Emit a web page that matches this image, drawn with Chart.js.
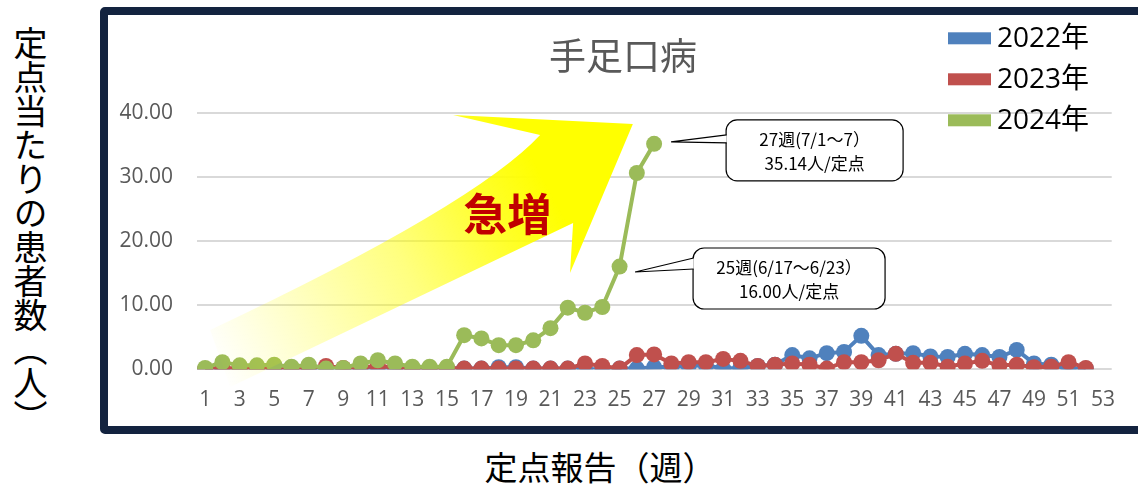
<!DOCTYPE html>
<html lang="ja">
<head>
<meta charset="utf-8">
<script src="https://cdn.jsdelivr.net/npm/chart.js@4/dist/chart.umd.min.js"></script>
<style>
  body { margin: 0; width: 1138px; height: 490px; background: #fff; position: relative; overflow: hidden;
         font-family: "Noto Sans CJK JP", sans-serif; }
  #frame { position: absolute; left: 100px; top: 7px; width: 1060px; height: 411px;
           border: 8px solid #13233f; border-radius: 5px; }
  #wrap { position: absolute; left: 108px; top: 15px; width: 1030px; height: 411px; }
  #yTitle { position: absolute; left: 11px; top: 26px; writing-mode: vertical-rl; font-size: 34px;
            line-height: 38px; color: #000; }
  #xTitle { position: absolute; left: 0; width: 1200px; top: 446px; text-align: center; font-size: 33px;
            line-height: 40px; color: #000; }
</style>
</head>
<body>
<div id="yTitle">定点当たりの患者数（人）</div>
<div id="frame"></div>
<div id="wrap"><canvas id="chart" width="1030" height="411"></canvas></div>
<div id="xTitle">定点報告（週）</div>
<script>
// 週ラベル
const weeks = ['1','2','3','4','5','6','7','8','9','10','11','12','13','14','15','16','17','18','19','20',
  '21','22','23','24','25','26','27','28','29','30','31','32','33','34','35','36','37','38','39','40',
  '41','42','43','44','45','46','47','48','49','50','51','52','53'];

const chartTitle = '手足口病';
const seriesNames = ['2022年', '2023年', '2024年'];

const data2022 = [0, 0, 0, 0, 0, 0, 0, 0, 0, 0.1, 0, 0.1, 0, 0, 0.1,
  0.1, 0.1, 0.3, 0.3, 0.1, 0.1, 0.1, 0, 0, 0.1, 0.1, 0.3,
  0.4, 0.5, 0.6, 0.1, 0.2, 0.5, 0.7,
  2.2, 1.7, 2.5, 2.7, 5.2, 2.2, 2.4, 2.5, 2.0, 1.9, 2.4, 2.2, 1.9, 3.0, 0.9, 0.7, 0.0, 0.1];

const data2023 = [0.0, 0.2, 0.1, 0.1, 0.2, 0.2, 0.2, 0.5, 0.2, 0.3, 0.5, 0.3, 0.1, 0.2, 0.2,
  0.1, 0.1, 0.1, 0.1, 0.1, 0.1, 0.1, 0.9, 0.5, 0.1, 2.2, 2.3,
  0.9, 1.1, 1.1, 1.6, 1.3, 0.5, 0.7,
  0.9, 0.7, 0.1, 1.1, 1.1, 1.4, 2.4, 1.0, 1.0, 0.4, 0.9, 1.3, 0.6, 0.7, 0.3, 0.4, 1.1, 0.2];

const data2024 = [0.2, 1.1, 0.6, 0.6, 0.7, 0.4, 0.7, 0.1, 0.2, 0.9, 1.4, 0.9, 0.4, 0.4, 0.4,
  5.3, 4.8, 3.75, 3.75, 4.5, 6.4, 9.6, 8.8, 9.7, 16.00, 30.6, 35.14];

const yTicks = [0, 10, 20, 30, 40];

// 吹き出し
const calloutWeeks = [27, 25];
const calloutText = [
  ['27週(7/1～7）', '35.14人/定点'],
  ['25週(6/17～6/23）', '16.00人/定点']
];

const colors = ['#4f81bd', '#c0504d', '#9bbb59'];
const jpFont = "'Open Sans', 'Noto Sans CJK JP', sans-serif";

Chart.defaults.font.family = jpFont;

function roundRect(ctx, x, y, w, h, r) {
  ctx.beginPath();
  ctx.moveTo(x + r, y);
  ctx.lineTo(x + w - r, y);
  ctx.arcTo(x + w, y, x + w, y + r, r);
  ctx.lineTo(x + w, y + h - r);
  ctx.arcTo(x + w, y + h, x + w - r, y + h, r);
  ctx.lineTo(x + r, y + h);
  ctx.arcTo(x, y + h, x, y + h - r, r);
  ctx.lineTo(x, y + r);
  ctx.arcTo(x, y, x + r, y, r);
  ctx.closePath();
}

// タイトル・矢印・「急増」・吹き出し・凡例
const decorations = {
  id: 'decorations',
  afterDatasetsDraw(chart) {
    const ctx = chart.ctx;
    const xs = chart.scales.x, ys = chart.scales.y;
    const P = (i, v) => [xs.getPixelForValue(i), ys.getPixelForValue(v)];

    ctx.save();
    // タイトル（枠の中央）
    ctx.fillStyle = '#595959';
    ctx.font = "37px 'Noto Sans CJK JP', sans-serif";
    ctx.textAlign = 'center';
    ctx.textBaseline = 'middle';
    ctx.fillText(chartTitle, chart.width / 2, 41);

    // 黄色い矢印
    const tip = P(24.77, 38.25), headTop = P(14.36, 39.65), notchTop = P(19.40, 36.53);
    const ctrl = P(15.63, 25.6), tailTop = P(0.29, 6.12), tailBot = P(1.45, -2.78);
    const notchBot = P(21.31, 22.8), headBot = P(21.13, 15.0);
    const g0 = P(0.6, 0.5), g1 = P(22.5, 32);
    const grad = ctx.createLinearGradient(g0[0], g0[1], g1[0], g1[1]);
    grad.addColorStop(0, 'rgba(255,255,0,0)');
    grad.addColorStop(0.2, 'rgba(255,255,0,0.2)');
    grad.addColorStop(0.5, 'rgba(255,255,0,0.5)');
    grad.addColorStop(0.75, 'rgba(255,255,0,0.85)');
    grad.addColorStop(0.88, 'rgba(255,255,0,1)');
    ctx.beginPath();
    ctx.moveTo(tip[0], tip[1]);
    ctx.lineTo(headTop[0], headTop[1]);
    ctx.lineTo(notchTop[0], notchTop[1]);
    ctx.quadraticCurveTo(ctrl[0], ctrl[1], tailTop[0], tailTop[1]);
    ctx.lineTo(tailBot[0], tailBot[1]);
    ctx.lineTo(notchBot[0], notchBot[1]);
    ctx.lineTo(headBot[0], headBot[1]);
    ctx.closePath();
    ctx.fillStyle = grad;
    ctx.fill();

    // 急増
    const t = P(17.49, 24.2);
    ctx.fillStyle = '#c00000';
    ctx.font = "bold 44px 'Noto Sans CJK JP', sans-serif";
    ctx.fillText('急増', t[0], t[1]);

    // 吹き出し
    const boxes = [
      { tip: [17, -2], base: [-9, -1], box: [72, -24, 177, 61] },
      { tip: [15.5, 5.4], base: [-8.6, 2.4], box: [73.5, -18.6, 192, 61] }
    ];
    ctx.font = "17px 'Noto Sans CJK JP', sans-serif";
    calloutWeeks.forEach((wk, k) => {
      const idx = weeks.indexOf(String(wk));
      const p = P(idx, data2024[idx]);
      const b = boxes[k];
      const bx = p[0] + b.box[0], by = p[1] + b.box[1];
      ctx.fillStyle = '#fff';
      ctx.strokeStyle = '#000';
      ctx.lineWidth = 1.2;
      roundRect(ctx, bx, by, b.box[2], b.box[3], 11);
      ctx.fill();
      ctx.stroke();
      // しっぽ
      ctx.beginPath();
      ctx.moveTo(bx + 0.6, p[1] + b.base[0]);
      ctx.lineTo(p[0] + b.tip[0], p[1] + b.tip[1]);
      ctx.lineTo(bx + 0.6, p[1] + b.base[1]);
      ctx.fill();
      ctx.stroke();
      ctx.fillStyle = '#000';
      ctx.fillText(calloutText[k][0], bx + b.box[2] / 2, by + 20);
      ctx.fillText(calloutText[k][1], bx + b.box[2] / 2, by + 43.5);
    });

    // 凡例
    ctx.font = "28px " + jpFont;
    ctx.textAlign = 'left';
    chart.data.datasets.forEach((ds, i) => {
      const cy = 23.3 + i * 41;
      ctx.fillStyle = ds.borderColor;
      ctx.fillRect(840, cy - 6, 43, 12);
      ctx.fillStyle = '#000';
      ctx.fillText(ds.label, 889, cy + 1);
    });
    ctx.restore();
  }
};

const seriesData = [data2022, data2023, data2024];

new Chart(document.getElementById('chart'), {
  type: 'line',
  data: {
    labels: weeks,
    datasets: seriesData.map((d, i) => ({
      label: seriesNames[i],
      data: d,
      borderColor: colors[i],
      backgroundColor: colors[i],
      pointBackgroundColor: colors[i],
      pointBorderWidth: 0,
      pointRadius: 8,
      borderWidth: 4,
      tension: 0,
      fill: false,
      order: 2 - i
    }))
  },
  options: {
    responsive: false,
    animation: false,
    layout: { padding: { left: 0, right: 26.3, top: 97.7, bottom: 0 } },
    plugins: {
      legend: { display: false },
      tooltip: { enabled: false },
      title: { display: false }
    },
    scales: {
      x: {
        offset: true,
        grid: { display: false, drawTicks: false },
        border: { display: false },
        ticks: {
          autoSkip: false,
          maxRotation: 0,
          padding: 18,
          color: '#595959',
          font: { size: 21 },
          callback: (v, i) => (i % 2 === 0 ? weeks[i] : '')
        },
        afterFit: s => { s.height = 56.8; }
      },
      y: {
        min: yTicks[0],
        max: yTicks[yTicks.length - 1],
        afterBuildTicks: s => { s.ticks = yTicks.map(v => ({ value: v })); },
        grid: { color: '#d9d9d9', lineWidth: 2, drawTicks: false },
        border: { display: false },
        ticks: {
          padding: 23.5,
          color: '#595959',
          font: { size: 21 },
          callback: v => v.toFixed(2)
        },
        afterFit: s => { s.width = 88.5; }
      }
    }
  },
  plugins: [decorations]
});
</script>
</body>
</html>
